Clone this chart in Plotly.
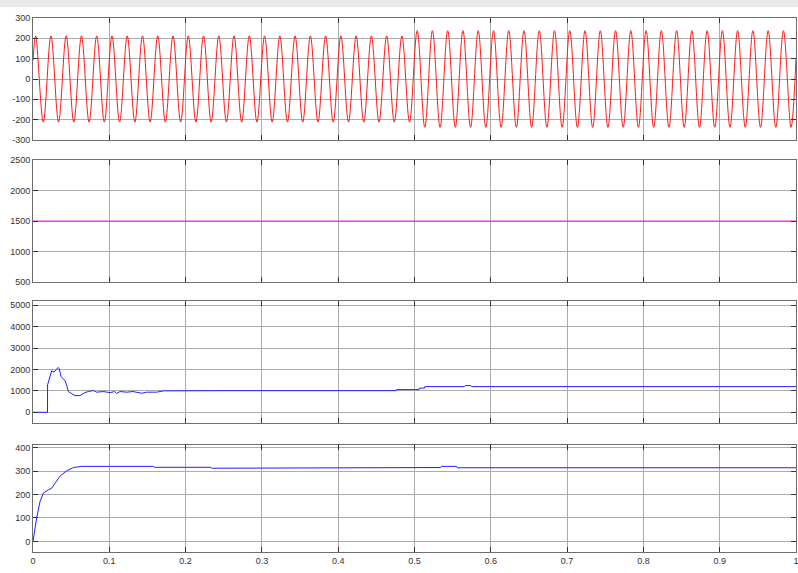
import plotly.graph_objects as go

# ---------------- data ----------------
# Plot 1: red AC waveform, extremum points (time s, value)
wave_t = [0.0,
    0.0035, 0.0135, 0.0235, 0.0335, 0.0435, 0.0535, 0.0635, 0.0735, 0.0835, 0.0935,
    0.1035, 0.1135, 0.1235, 0.1335, 0.1435, 0.1535, 0.1635, 0.1735, 0.1835, 0.1935,
    0.2035, 0.2135, 0.2235, 0.2335, 0.2435, 0.2535, 0.2635, 0.2735, 0.2835, 0.2935,
    0.3035, 0.3135, 0.3235, 0.3335, 0.3435, 0.3535, 0.3635, 0.3735, 0.3835, 0.3935,
    0.4035, 0.4135, 0.4235, 0.4335, 0.4435, 0.4535, 0.4635, 0.4735, 0.4835, 0.4935,
    0.5035, 0.5135, 0.5235, 0.5335, 0.5435, 0.5535, 0.5635, 0.5735, 0.5835, 0.5935,
    0.6035, 0.6135, 0.6235, 0.6335, 0.6435, 0.6535, 0.6635, 0.6735, 0.6835, 0.6935,
    0.7035, 0.7135, 0.7235, 0.7335, 0.7435, 0.7535, 0.7635, 0.7735, 0.7835, 0.7935,
    0.8035, 0.8135, 0.8235, 0.8335, 0.8435, 0.8535, 0.8635, 0.8735, 0.8835, 0.8935,
    0.9035, 0.9135, 0.9235, 0.9335, 0.9435, 0.9535, 0.9635, 0.9735, 0.9835, 0.9935,
    1.0]
wave_v = [90,
    212, -212, 212, -212, 212, -212, 212, -212, 212, -212,
    212, -212, 212, -212, 212, -212, 212, -212, 212, -212,
    212, -212, 212, -212, 212, -212, 212, -212, 212, -212,
    212, -212, 212, -212, 212, -212, 212, -212, 212, -212,
    212, -212, 212, -212, 212, -212, 212, -212, 212, -212,
    238, -238, 238, -238, 238, -238, 238, -238, 238, -238,
    238, -238, 238, -238, 238, -238, 238, -238, 238, -238,
    238, -238, 238, -238, 238, -238, 238, -238, 238, -238,
    238, -238, 238, -238, 238, -238, 238, -238, 238, -238,
    238, -238, 238, -238, 238, -238, 238, -238, 238, -238,
    100]

# Plot 2: magenta reference
ref_t = [0.0, 1.0]
ref_v = [1500, 1500]

# Plot 3: blue response
resp_t = [0, 0.019, 0.0191, 0.0225, 0.0245, 0.0275, 0.030, 0.033, 0.0345, 0.0367,
          0.039, 0.042, 0.044, 0.0463, 0.050, 0.055, 0.0616, 0.068, 0.0725, 0.079,
          0.0835, 0.092, 0.101, 0.107, 0.1097, 0.114, 0.123, 0.131, 0.1425, 0.149,
          0.162, 0.171, 0.25, 0.476, 0.4765, 0.506, 0.5065, 0.513, 0.5135, 0.565,
          0.567, 0.573, 0.575, 1.0]
resp_v = [0, 0, 1280, 1750, 1940, 1880, 1985, 2095, 2030, 1670,
          1590, 1470, 1280, 970, 890, 780, 780, 920, 970, 1015,
          940, 970, 920, 970, 880, 970, 940, 970, 890, 940,
          940, 1000, 1010, 1010, 1060, 1060, 1130, 1130, 1200, 1200,
          1250, 1250, 1200, 1200]

# Plot 4: blue rising curve
rise_t = [0, 0.002, 0.0048, 0.0092, 0.0135, 0.020, 0.0245, 0.029, 0.035, 0.044,
          0.053, 0.064, 0.158, 0.159, 0.233, 0.234, 0.522, 0.523, 0.534, 0.535,
          0.555, 0.556, 1.0]
rise_v = [0, 50, 100, 170, 206, 220, 227, 248, 277, 301,
          315, 320, 320, 316, 316, 312, 312, 315, 315, 320,
          320, 314, 314]

x_ticks = [0, 0.1, 0.2, 0.3, 0.4, 0.5, 0.6, 0.7, 0.8, 0.9, 1]
x_labels = ["0", "0.1", "0.2", "0.3", "0.4", "0.5", "0.6", "0.7", "0.8", "0.9", "1"]
y1_ticks = [-300, -200, -100, 0, 100, 200, 300]
y1_labels = ["-300", "-200", "-100", "0", "100", "200", "300"]
y2_ticks = [500, 1000, 1500, 2000, 2500]
y3_ticks = [0, 1000, 2000, 3000, 4000, 5000]
y4_ticks = [0, 100, 200, 300, 400]

# ---------------- layout ----------------
W, H = 798, 573
x_dom = [33 / W, 796 / W]
def ydom(top, bottom):
    return [1 - bottom / H, 1 - top / H]

fig = go.Figure()
fig.add_trace(go.Scatter(x=wave_t, y=wave_v, mode="lines", line=dict(color="#ff1a1a", width=1, shape="spline", smoothing=1),
                         xaxis="x", yaxis="y", showlegend=False))
fig.add_trace(go.Scatter(x=ref_t, y=ref_v, mode="lines", line=dict(color="#e020e0", width=1),
                         xaxis="x2", yaxis="y2", showlegend=False))
fig.add_trace(go.Scatter(x=resp_t, y=resp_v, mode="lines", line=dict(color="#2020ff", width=1),
                         xaxis="x3", yaxis="y3", showlegend=False))
fig.add_trace(go.Scatter(x=rise_t, y=rise_v, mode="lines", line=dict(color="#2020ff", width=1),
                         xaxis="x4", yaxis="y4", showlegend=False))

font = dict(family="Liberation Sans, Arial, sans-serif", size=9, color="#333333")
common = dict(showgrid=True, gridcolor="#ababab", gridwidth=1, showline=True, linecolor="#6e6e6e",
              linewidth=1, mirror="ticks", ticks="inside", ticklen=5, tickcolor="#333333",
              zeroline=False, tickfont=font, fixedrange=True, ticklabeloverflow="allow")

domains = [ydom(18, 140), ydom(160, 282), ydom(301, 423), ydom(445, 552)]
yranges = [[-300, 300], [500, 2500], [-500, 5200], [-45, 411]]
yticks = [(y1_ticks, y1_labels), (y2_ticks, [str(v) for v in y2_ticks]),
          (y3_ticks, [str(v) for v in y3_ticks]), (y4_ticks, [str(v) for v in y4_ticks])]

lay = {}
for i in range(4):
    xn = "xaxis" if i == 0 else f"xaxis{i+1}"
    yn = "yaxis" if i == 0 else f"yaxis{i+1}"
    yref = "y" if i == 0 else f"y{i+1}"
    xref = "x" if i == 0 else f"x{i+1}"
    lay[xn] = dict(domain=x_dom, range=[0, 1], anchor=yref, tickvals=x_ticks, ticktext=x_labels,
                   showticklabels=(i == 3), **common)
    lay[yn] = dict(domain=domains[i], range=yranges[i], anchor=xref, tickvals=yticks[i][0],
                   ticktext=yticks[i][1], **common)

fig.update_layout(width=W, height=H, margin=dict(l=0, r=0, t=0, b=0, autoexpand=False),
                  paper_bgcolor="white", plot_bgcolor="white", **lay)

# grey window strip at the very top
fig.add_shape(type="rect", xref="paper", yref="paper", x0=0, x1=1, y0=1 - 7 / H, y1=1,
              fillcolor="#eaeaea", line=dict(width=0), layer="below")

fig.write_html("out.html", config={"displayModeBar": False},
               post_script="document.body.style.margin='0';document.body.style.overflow='hidden';")
